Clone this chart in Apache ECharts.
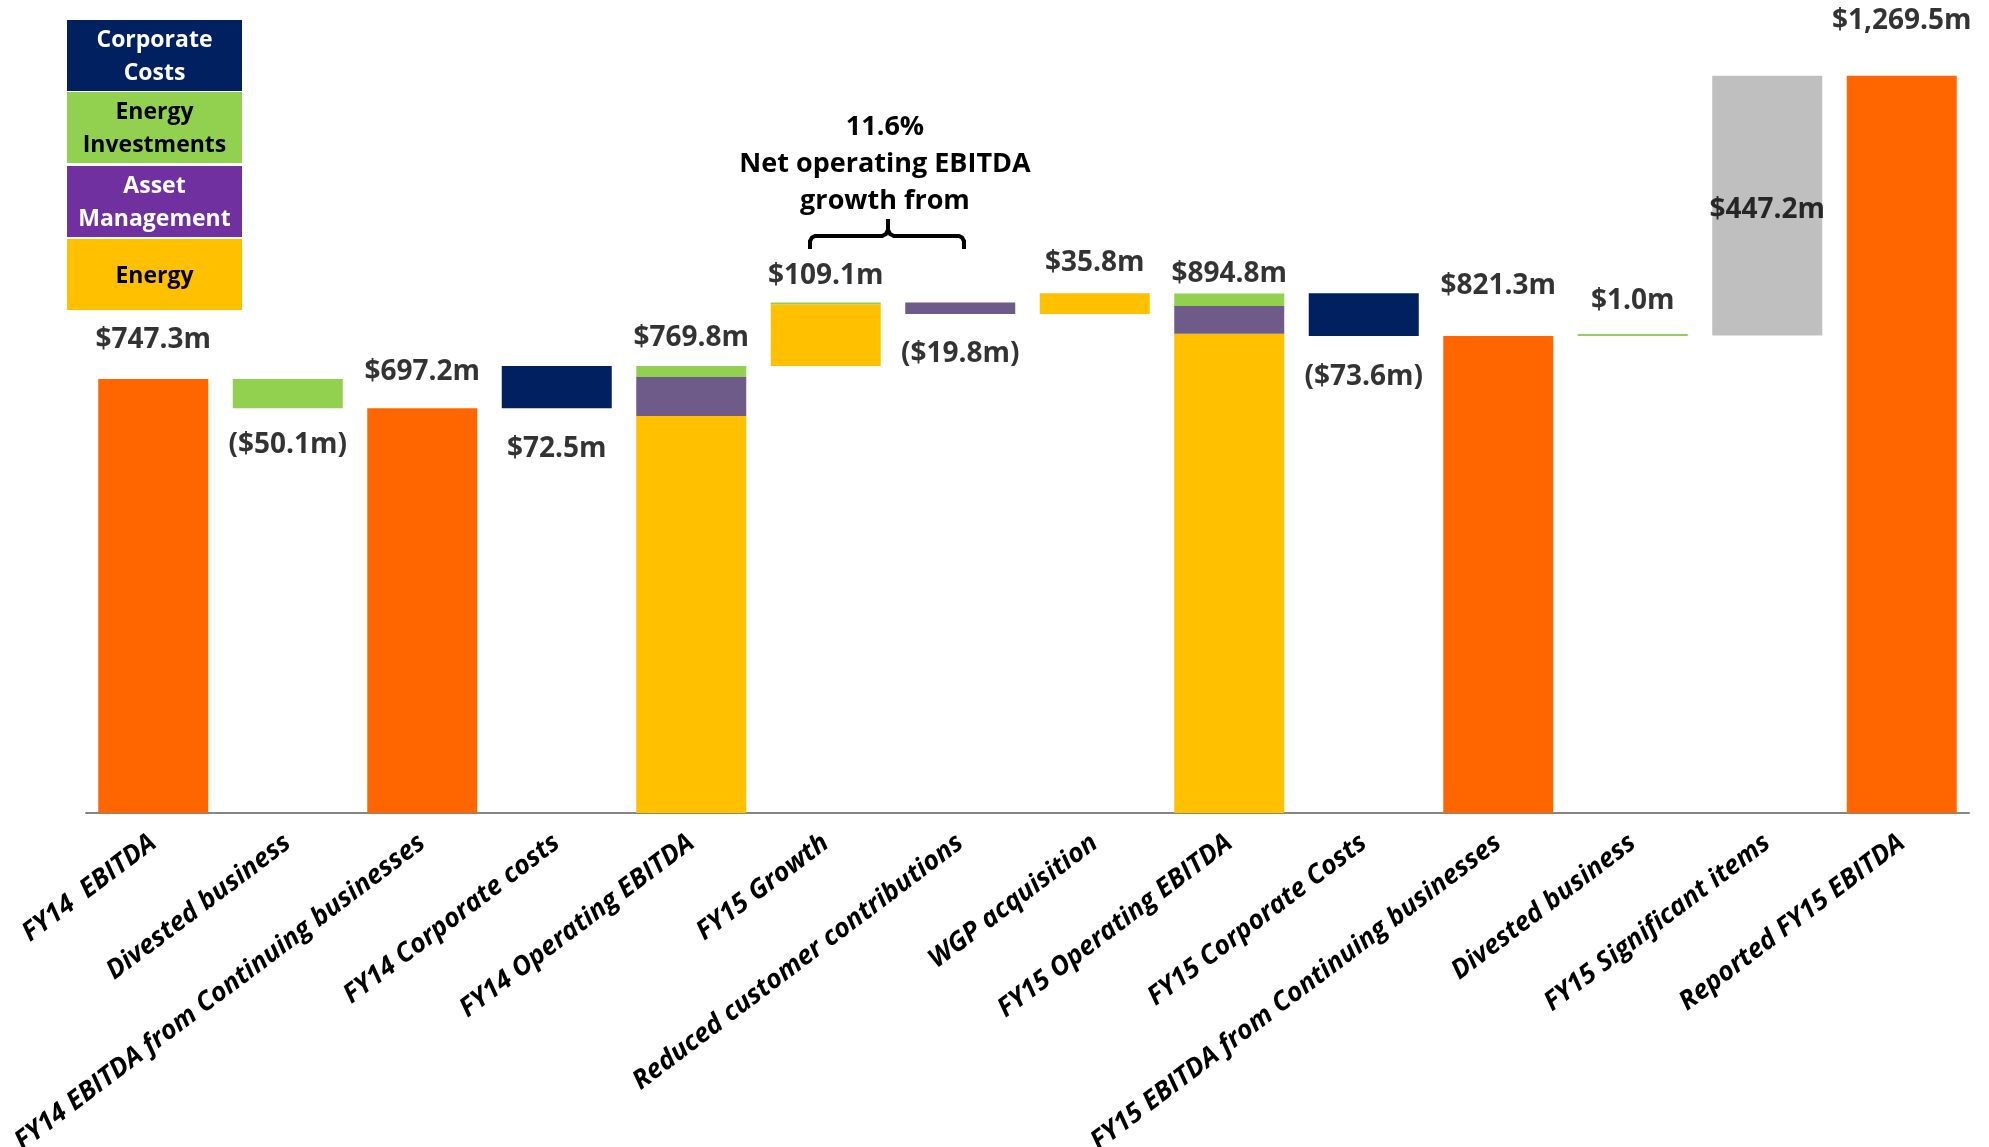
<!DOCTYPE html>
<html>
<head>
<meta charset="utf-8">
<title>EBITDA bridge FY14 - FY15</title>
<script src="https://cdn.jsdelivr.net/npm/echarts@6/dist/echarts.min.js"></script>
<style>
  html, body { margin: 0; padding: 0; background: #fff; }
  #chart { width: 1989px; height: 1147px; }
</style>
</head>
<body>
<div id="chart"></div>
<script>
// categories along the bridge
const categories = [
  'FY14  EBITDA', 'Divested business', 'FY14 EBITDA from Continuing businesses',
  'FY14 Corporate costs', 'FY14 Operating EBITDA', 'FY15 Growth',
  'Reduced customer contributions', 'WGP acquisition', 'FY15 Operating EBITDA',
  'FY15 Corporate Costs', 'FY15 EBITDA from Continuing businesses',
  'Divested business', 'FY15 Significant items', 'Reported FY15 EBITDA'
]

// invisible floor of each floating step ($m)
const baseValues = ['-', 697.2, '-', 697.2, '-', 769.8, 859.1, 859.1, '-', 821.3, '-', 821.3, 822.3, '-']
// segments ($m)
const totalValues = [747.3, '-', 697.2, '-', '-', '-', '-', '-', '-', '-', 821.3, '-', '-', 1269.5]
const energyValues = ['-', '-', '-', '-', 683.5, 106.0, '-', 35.8, 825.2, '-', '-', '-', '-', '-']
const assetMgmtValues = ['-', '-', '-', '-', 67.5, '-', 19.8, '-', 47.7, '-', '-', '-', '-', '-']
const energyInvValues = ['-', 50.1, '-', '-', 18.8, 3.1, '-', '-', 21.9, '-', '-', 1.0, '-', '-']
const corporateValues = ['-', '-', '-', 72.5, '-', '-', '-', '-', '-', 73.6, '-', '-', '-', '-']
const significantValues = ['-', '-', '-', '-', '-', '-', '-', '-', '-', '-', '-', '-', 447.2, '-']

const valueLabels = [
  '$747.3m', '($50.1m)', '$697.2m', '$72.5m', '$769.8m', '$109.1m', '($19.8m)',
  '$35.8m', '$894.8m', '($73.6m)', '$821.3m', '$1.0m', '$447.2m', '$1,269.5m'
]

// label placement (style only)
const labelSide = ['top', 'bottom', 'top', 'bottom', 'top', 'top', 'bottom', 'top', 'top', 'bottom', 'top', 'top', 'inside', 'top']
const labelGap = [22, 19, 19, 23, 10, 9, 22, 13, 2, 23, 33, 17, 0, 37]

const FONT = '"Open Sans", "DejaVu Sans", sans-serif'
const num = v => (v === '-' ? 0 : v)

// anchor point for each value label, from the stacked segments
const segmentLists = [totalValues, energyValues, assetMgmtValues, energyInvValues, corporateValues, significantValues]
const labelPoints = categories.map((c, i) => {
  const base = num(baseValues[i])
  const size = segmentLists.reduce((s, arr) => s + num(arr[i]), 0)
  let y = base + size
  if (labelSide[i] === 'bottom') y = base
  if (labelSide[i] === 'inside') y = base + size / 2 - 8
  return {
    value: y,
    label: {
      position: labelSide[i],
      distance: labelGap[i],
      formatter: valueLabels[i]
    }
  }
})

function stackBar(name, data, color, extra) {
  return Object.assign({
    name: name,
    type: 'bar',
    stack: 'bridge',
    data: data,
    barWidth: 110,
    itemStyle: { color: color },
    silent: true
  }, extra || {})
}

// legend boxes drawn as blocks at top-left
const legendBoxes = [
  { text: 'Corporate\nCosts', fill: '#002060', color: '#fff', y: 20 },
  { text: 'Energy\nInvestments', fill: '#92D050', color: '#000', y: 92 },
  { text: 'Asset\nManagement', fill: '#7030A0', color: '#fff', y: 166 },
  { text: 'Energy', fill: '#FFC000', color: '#000', y: 239 }
]
const legendGraphics = []
legendBoxes.forEach(b => {
  legendGraphics.push({
    type: 'rect',
    shape: { x: 67, y: b.y, width: 175, height: 71 },
    style: { fill: b.fill }
  })
  legendGraphics.push({
    type: 'text',
    x: 154.5, y: b.y + 37,
    style: {
      text: b.text, fill: b.color, font: 'bold 23px ' + FONT,
      align: 'center', verticalAlign: 'middle', lineHeight: 33
    }
  })
})

// curly brace over FY15 Growth / Reduced customer contributions
const braceStyle = { fill: null, stroke: '#000', lineWidth: 4 }
const braceGraphics = [
  { type: 'polyline', shape: { points: [[810, 249], [810, 241], [812, 237.5], [815, 236], [882, 236], [886, 234], [888, 230], [888, 219]] }, style: braceStyle },
  { type: 'polyline', shape: { points: [[888, 230], [890, 234], [894, 236], [959, 236], [962, 237.5], [964, 241], [964, 249]] }, style: braceStyle }
]

const chart = echarts.init(document.getElementById('chart'))
chart.setOption({
  animation: false,
  grid: { left: 86, right: 20, top: 0, bottom: 334, outerBoundsMode: 'none', containLabel: false },
  xAxis: {
    type: 'category',
    data: categories,
    axisLine: { lineStyle: { color: '#868686', width: 2 } },
    axisTick: { length: 12, lineStyle: { color: '#868686', width: 1.5 } },
    axisLabel: {
      rotate: 37,
      margin: 27,
      interval: 0,
      color: '#000',
      fontFamily: FONT,
      fontSize: 26.5,
      fontWeight: 'bold',
      fontStyle: 'italic'
    }
  },
  yAxis: { type: 'value', min: 0, max: 1400, show: false },
  graphic: legendGraphics.concat(braceGraphics, [
    {
      type: 'text',
      x: 885, y: 164,
      style: {
        text: '11.6%\nNet operating EBITDA\ngrowth from',
        fill: '#000', font: 'bold 27px ' + FONT,
        align: 'center', verticalAlign: 'middle', lineHeight: 37
      }
    }
  ]),
  series: [
    stackBar('base', baseValues, 'rgba(0,0,0,0)'),
    stackBar('Total', totalValues, '#FF6600'),
    stackBar('Energy', energyValues, '#FFC000'),
    stackBar('Asset Management', assetMgmtValues, '#6F5B8A'),
    stackBar('Energy Investments', energyInvValues, '#92D050', { barMinHeight: 2 }),
    stackBar('Corporate Costs', corporateValues, '#002060'),
    stackBar('Significant items', significantValues, '#BFBFBF'),
    {
      name: 'labels',
      type: 'scatter',
      data: labelPoints,
      symbolSize: 1,
      itemStyle: { color: 'rgba(0,0,0,0)' },
      silent: true,
      z: 5,
      label: {
        show: true,
        color: '#000',
        fontFamily: FONT,
        fontSize: 28,
        fontWeight: 'bold',
        lineHeight: 34
      }
    }
  ]
})
</script>
</body>
</html>
